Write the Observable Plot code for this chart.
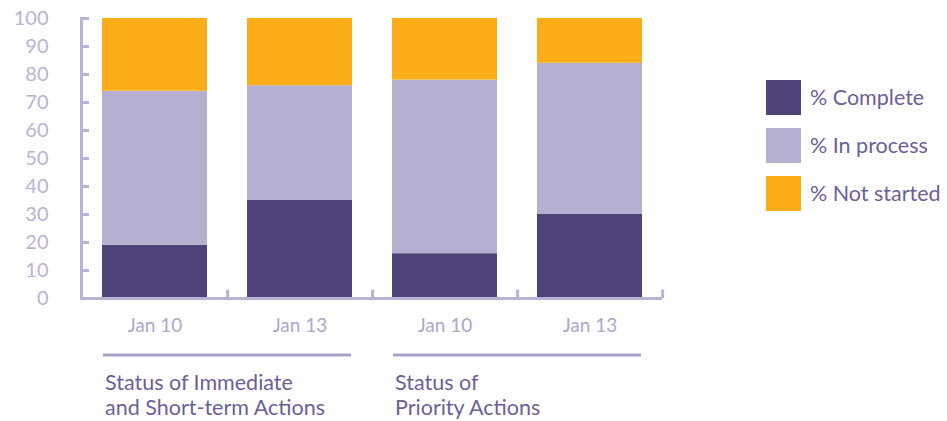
<!DOCTYPE html>
<html><head><meta charset="utf-8">
<script src="https://cdn.jsdelivr.net/npm/d3@7"></script>
<script src="https://cdn.jsdelivr.net/npm/@observablehq/plot@0.6"></script>
<style>body{margin:0;background:#fff;font-family:Lato,"Open Sans",sans-serif;}</style>
</head><body><div id="chart"></div>
<script>
// ---- data ----
const categories = ["A-Jan10", "A-Jan13", "B-Jan10", "B-Jan13"];
const tickLabels = ["Jan 10", "Jan 13", "Jan 10", "Jan 13"];
const groupMembers = [["A-Jan10", "A-Jan13"], ["B-Jan10", "B-Jan13"]];
const groupLabels = [["Status of Immediate", "and Short-term Actions"], ["Status of", "Priority Actions"]];
const series = ["% Complete", "% In process", "% Not started"];
const complete = [19, 35, 16, 30];
const inProcess = [55, 41, 62, 54];
const notStarted = [26, 24, 22, 16];
const yTicks = [0, 10, 20, 30, 40, 50, 60, 70, 80, 90, 100];
const colors = ["#4E4277", "#B5B0CF", "#FBAE17"];

const values = [complete, inProcess, notStarted];
const rows = [];
series.forEach((s, si) => categories.forEach((c, ci) => rows.push({cat: c, series: s, value: values[si][ci]})));

const W = 947, H = 421, mL = 81, mR = 285, mT = 18, mB = 123;
const pInner = 0.276, pOuter = 0.138;
const axisColor = "#B8B3D3";
const labelColor = "#B9B4D3";
const textColor = "#6B5F99";
const font = "Lato, 'Open Sans', sans-serif";
const step = (W - mL - mR) / (categories.length - pInner + 2 * pOuter);

const plot = Plot.plot({
  width: W, height: H,
  marginLeft: mL, marginRight: mR, marginTop: mT, marginBottom: mB,
  style: {fontFamily: font, background: "#fff"},
  x: {domain: categories, paddingInner: pInner, paddingOuter: pOuter, axis: null},
  y: {domain: [0, 100], axis: null},
  color: {domain: series, range: colors},
  marks: [
    Plot.barY(rows, {x: "cat", y: "value", fill: "series"}),
    Plot.frame({anchor: "left", stroke: axisColor, strokeWidth: 3}),
    Plot.ruleY([0], {stroke: axisColor, strokeWidth: 3}),
    Plot.ruleX(categories, {x: d => d, y1: 0, y2: 3, dx: step / 2, stroke: axisColor, strokeWidth: 3}),
    Plot.axisY({ticks: yTicks, anchor: "left", label: null, tickSize: -8, tickPadding: 41, stroke: axisColor, strokeWidth: 3, fill: labelColor, fontSize: 20}),
    Plot.axisX({anchor: "bottom", label: null, tickSize: 0, tickPadding: 20, tickFormat: d => tickLabels[categories.indexOf(d)], fill: "#ADA8C9", fontSize: 19})
  ]
});
document.getElementById("chart").appendChild(plot);

// ---- group annotations & legend through the plot's scales ----
const xs = plot.scale("x");
const bw = xs.bandwidth;
const svg = d3.select(plot);
const g = svg.append("g").attr("text-anchor", "start");
groupMembers.forEach((m, i) => {
  const x0 = xs.apply(m[0]);
  const x1 = xs.apply(m[m.length - 1]) + bw;
  g.append("line").attr("x1", x0 + 1).attr("x2", x1 - 1).attr("y1", 355).attr("y2", 355)
    .attr("stroke", "#A8A2C8").attr("stroke-width", 3);
  const t = g.append("text").attr("x", x0 + 3).attr("y", 390).attr("fill", textColor)
    .style("font-size", "21.5px").style("font-family", font);
  groupLabels[i].forEach((line, li) => t.append("tspan").attr("x", x0 + 3).attr("dy", li ? 25 : 0).text(line));
});
const cs = plot.scale("color");
const lg = svg.append("g").attr("text-anchor", "start");
series.forEach((s, i) => {
  lg.append("rect").attr("x", 766).attr("y", 80 + i * 48).attr("width", 35).attr("height", 35).attr("fill", cs.apply(s));
  lg.append("text").attr("x", 810).attr("y", 97.5 + i * 48).attr("dy", "0.35em").attr("fill", textColor)
    .style("font-size", "21.5px").style("font-family", font).text(s);
});
</script></body></html>
